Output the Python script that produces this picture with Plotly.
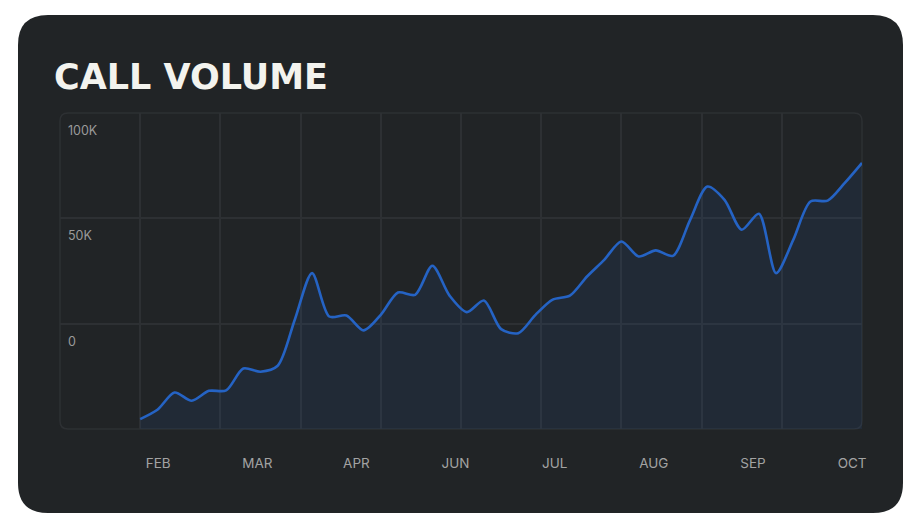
import plotly.graph_objects as go

# 通话量 (每周)
call_volume = [-45300, -40900, -32700, -36600, -31900, -31700, -21300, -22800, -20000, 2000,
               24000, 3400, 3900, -3200, 4200, 14800, 13700, 27500, 13300, 5500,
               11000, -2600, -4500, 4200, 11400, 13300, 22400, 30300, 39000, 31900,
               34800, 32200, 49300, 65100, 58800, 44600, 52200, 24000, 39800, 58000,
               58400, 66800, 76300]
weeks = list(range(len(call_volume)))

month_labels = ["FEB", "MAR", "APR", "JUN", "JUL", "AUG", "SEP", "OCT"]
y_tick_vals = [0, 50000, 100000]
y_tick_text = ["0", "50K", "100K"]
Y_MIN, Y_MAX = -50000, 100000

# 画布 / 布局 (像素)
W, H = 896, 510
L, R, T, B = 52, 42, 105, 89
PW, PH = W - L - R, H - T - B

CARD = "#212426"
GRID = "#2d3033"
LINE = "#2563C4"


def px_x(px):
    return (px - L) / PW


def px_y(py):
    return (H - B - py) / PH


def rounded_rect(x0, y0, x1, y1, r):
    """像素坐标 -> paper 坐标下的圆角矩形路径"""
    pts = [
        ("M", [(x0 + r, y0)]), ("L", [(x1 - r, y0)]), ("Q", [(x1, y0), (x1, y0 + r)]),
        ("L", [(x1, y1 - r)]), ("Q", [(x1, y1), (x1 - r, y1)]),
        ("L", [(x0 + r, y1)]), ("Q", [(x0, y1), (x0, y1 - r)]),
        ("L", [(x0, y0 + r)]), ("Q", [(x0, y0), (x0 + r, y0)]),
    ]
    path = ""
    for cmd, coords in pts:
        path += cmd + " " + " ".join(f"{px_x(a):.5f},{px_y(b):.5f}" for a, b in coords) + " "
    return path + "Z"


n = len(call_volume) - 1
col = n / 9
# y 标签放在网格线下方约 17.5px
label_drop = 17.5 * (Y_MAX - Y_MIN) / PH

fig = go.Figure()

# 填充基线
fig.add_trace(go.Scatter(
    x=weeks, y=[Y_MIN] * len(weeks), mode="lines",
    line=dict(width=0), hoverinfo="skip", showlegend=False,
))
fig.add_trace(go.Scatter(
    x=weeks, y=call_volume, mode="lines",
    line=dict(color=LINE, width=2.6, shape="spline", smoothing=0.8),
    fill="tonexty", fillcolor="rgba(40,100,200,0.10)",
    showlegend=False, name="Call volume",
))
# 月份标签轴
fig.add_trace(go.Scatter(
    x=list(range(len(month_labels))), y=[None] * len(month_labels),
    xaxis="x2", mode="markers", showlegend=False, hoverinfo="skip",
))
# y 标签轴
fig.add_trace(go.Scatter(
    x=[None] * len(y_tick_vals), y=y_tick_vals,
    yaxis="y2", mode="markers", showlegend=False, hoverinfo="skip",
))

fig.update_layout(
    width=W, height=H,
    margin=dict(l=L, r=R, t=T, b=B),
    paper_bgcolor="white",
    plot_bgcolor="rgba(0,0,0,0)",
    font=dict(family="Inter", color="#9a9a9a"),
    xaxis=dict(
        range=[-col, n], tick0=0, dtick=col,
        showgrid=True, gridcolor=GRID, gridwidth=1.5,
        showticklabels=False, zeroline=False, showline=False, ticks="",
    ),
    xaxis2=dict(
        overlaying="x", anchor="y", side="bottom",
        range=[-0.99, 7.1], tickvals=list(range(len(month_labels))), ticktext=month_labels,
        showgrid=False, zeroline=False, showline=False, ticks="",
        ticklabelstandoff=24,
        tickfont=dict(family="Inter", size=13.5, color="#a3a3a3"),
    ),
    yaxis=dict(
        range=[Y_MIN, Y_MAX], tickvals=y_tick_vals,
        showgrid=True, gridcolor=GRID, gridwidth=1.5,
        showticklabels=False, zeroline=False, showline=False, ticks="",
    ),
    yaxis2=dict(
        overlaying="y", anchor="free", position=0, side="right",
        range=[Y_MIN + label_drop, Y_MAX + label_drop],
        tickvals=y_tick_vals, ticktext=y_tick_text,
        showgrid=False, zeroline=False, showline=False, ticks="",
        ticklabelstandoff=7,
        tickfont=dict(family="Inter", size=12.5, color="#9a9a9a"),
    ),
    shapes=[
        dict(type="path", xref="paper", yref="paper", layer="below",
             path=rounded_rect(10, 7, 895, 505, 30),
             fillcolor=CARD, line=dict(width=0)),
        dict(type="path", xref="paper", yref="paper", layer="below",
             path=rounded_rect(52, 105, 854, 421, 8),
             fillcolor="rgba(0,0,0,0)", line=dict(color=GRID, width=1.5)),
    ],
    annotations=[
        dict(text="<b>CALL VOLUME</b>", xref="paper", yref="paper",
             x=px_x(44), y=px_y(69), xanchor="left", yanchor="middle",
             showarrow=False,
             font=dict(family="DejaVu Sans", size=35, color="#f3f3ee")),
    ],
)

fig.write_html("out.html")
